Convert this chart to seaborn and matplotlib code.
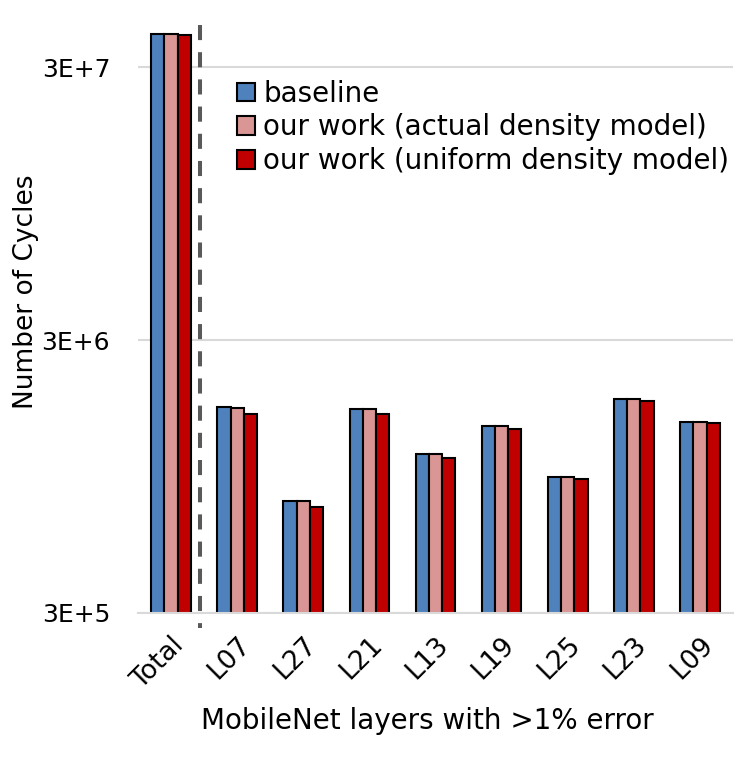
import matplotlib
matplotlib.use("Agg")
import matplotlib.pyplot as plt
from matplotlib.patches import Patch
import pandas as pd
import seaborn as sns

# ---------------------------------------------------------------------------
# data
# ---------------------------------------------------------------------------
layers = ["Total", "L07", "L27", "L21", "L13", "L19", "L25", "L23", "L09"]
series = [
    "baseline",
    "our work (actual density model)",
    "our work (uniform density model)",
]
baseline = [3.98e7, 1.71e6, 7.72e5, 1.68e6, 1.15e6, 1.455e6, 9.44e5, 1.83e6, 1.50e6]
actual = [3.98e7, 1.69e6, 7.72e5, 1.68e6, 1.15e6, 1.455e6, 9.44e5, 1.83e6, 1.50e6]
uniform = [3.94e7, 1.60e6, 7.30e5, 1.61e6, 1.11e6, 1.41e6, 9.30e5, 1.80e6, 1.485e6]

ytick_vals = [3e5, 3e6, 3e7]
ytick_labels = ["3E+5", "3E+6", "3E+7"]

COLORS = ["#4F81BD", "#D99694", "#C00000"]
GRID = "#D9D9D9"
FS = 20

df = pd.DataFrame({
    "layer": layers * 3,
    "cycles": baseline + actual + uniform,
    "config": [s for s in series for _ in layers],
})

sns.set_style("white")
plt.rcParams["font.family"] = ["DejaVu Sans"]
plt.rcParams.update({
    "text.color": "black", "axes.labelcolor": "black",
    "xtick.color": "black", "ytick.color": "black",
})

fig = plt.figure(figsize=(7.5, 7.61), dpi=100)
ax = fig.add_axes([0.184, 0.1949, 0.7933, 0.7722])
ax.set_yscale("log")

sns.barplot(
    data=df, x="layer", y="cycles", hue="config", order=layers,
    hue_order=series, palette=COLORS, saturation=1, width=0.6, gap=0,
    edgecolor="black", linewidth=1.5, legend=False, ax=ax,
)

ax.set_xlim(-0.5, len(layers) - 0.5)
ax.set_ylim(3e5, 4.29e7)
ax.set_yticks(ytick_vals)
ax.set_yticklabels(ytick_labels)
ax.yaxis.set_minor_locator(matplotlib.ticker.NullLocator())
ax.grid(axis="y", color=GRID, linewidth=1.5)
ax.set_axisbelow(True)
for side in ["top", "right", "left"]:
    ax.spines[side].set_visible(False)
ax.spines["bottom"].set_color(GRID)
ax.spines["bottom"].set_linewidth(1.5)
ax.tick_params(axis="both", length=0)
ax.tick_params(axis="y", pad=20, labelsize=18)
ax.tick_params(axis="x", pad=14, labelsize=19)
plt.setp(ax.get_xticklabels(), rotation=45, ha="right", rotation_mode="anchor")

# separator between total and per-layer bars
ax.plot([0.44, 0.44], [1.0, -0.026], transform=ax.get_xaxis_transform(),
        color="#595959", linewidth=2.9, linestyle=(0, (3.75, 3.0)),
        clip_on=False)

ax.set_xlabel("MobileNet layers with >1% error", fontsize=FS)
ax.xaxis.set_label_coords(0.487, -0.16)
ax.set_ylabel("Number of Cycles", fontsize=19)
ax.yaxis.set_label_coords(-0.166, 0.546)

handles = [Patch(facecolor=c, edgecolor="black", linewidth=1.5) for c in COLORS]
ax.legend(handles, series, loc="upper left", bbox_to_anchor=(0.316, 0.895),
          bbox_transform=fig.transFigure, frameon=False, fontsize=FS,
          handlelength=0.65, handleheight=0.65, handletextpad=0.3,
          labelspacing=0.2, borderpad=0, borderaxespad=0)

fig.savefig("out.png", dpi=100)
plt.close(fig)
